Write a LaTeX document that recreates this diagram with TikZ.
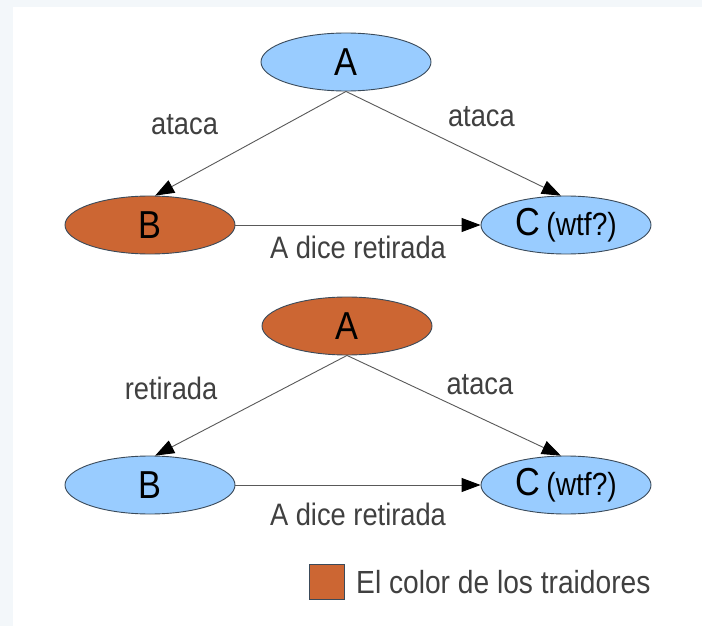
\documentclass[tikz,border=0pt]{standalone}
\usepackage{fontspec}
\setmainfont[FakeStretch=0.88]{Liberation Sans}
\usetikzlibrary{shapes.geometric,arrows.meta,positioning}

\definecolor{leal}{HTML}{99CCFF}
\definecolor{traidor}{HTML}{CC6633}
\definecolor{borde}{HTML}{3A4A5A}
\definecolor{fondo}{HTML}{F3F7FA}

\begin{document}
\begin{tikzpicture}[
        x=1pt, y=-1pt,
        general/.style={ellipse, draw=borde, line width=0.9pt, inner sep=0pt,
            minimum width=170pt, minimum height=58pt,
            font=\fontsize{39}{40}\selectfont},
        leal/.style={general, fill=leal},
        traidor/.style={general, fill=traidor},
        orden/.style={-{Triangle[length=19pt,width=14pt,color=black]}, line width=0.9pt, draw=black!65},
        etiqueta/.style={font=\fontsize{31}{32}\selectfont, text=black!75},
    ]
    \fill[fondo] (0,0) rectangle (702,626);
    \fill[white] (13,7) rectangle (702,626);
    \useasboundingbox (0,0) rectangle (702,626);

    % primer caso: B es el traidor
    \node[leal] (a1) at (346,62) {A};
    \node[traidor] (b1) at (150,225) {B};
    \node[leal] (c1) at (566,225) {C\,{\fontsize{32}{34}\selectfont(wtf?)}};
    \draw[orden] (a1.south) -- (b1.80)
        node[etiqueta, midway, xshift=-66pt, yshift=19pt] {ataca};
    \draw[orden] (a1.south) -- (c1.100)
        node[etiqueta, midway, xshift=28pt, yshift=27pt] {ataca};
    \draw[orden] (b1.east) -- (c1.west)
        node[etiqueta, midway, below=7pt] {A dice retirada};

    % segundo caso: A es el traidor
    \node[traidor] (a2) at (347,326) {A};
    \node[leal] (b2) at (150,485) {B};
    \node[leal] (c2) at (566,485) {C\,{\fontsize{32}{34}\selectfont(wtf?)}};
    \draw[orden] (a2.south) -- (b2.80)
        node[etiqueta, midway, xshift=-80pt, yshift=17pt] {retirada};
    \draw[orden] (a2.south) -- (c2.100)
        node[etiqueta, midway, xshift=26pt, yshift=21pt] {ataca};
    \draw[orden] (b2.east) -- (c2.west)
        node[etiqueta, midway, below=14pt] {A dice retirada};

    % leyenda
    \node[draw=borde, fill=traidor, minimum size=35pt, inner sep=0pt] (muestra) at (327,582) {};
    \node[etiqueta, font=\fontsize{32}{34}\selectfont, right=8pt of muestra] (leyenda) {El color de los traidores};
\end{tikzpicture}
\end{document}
